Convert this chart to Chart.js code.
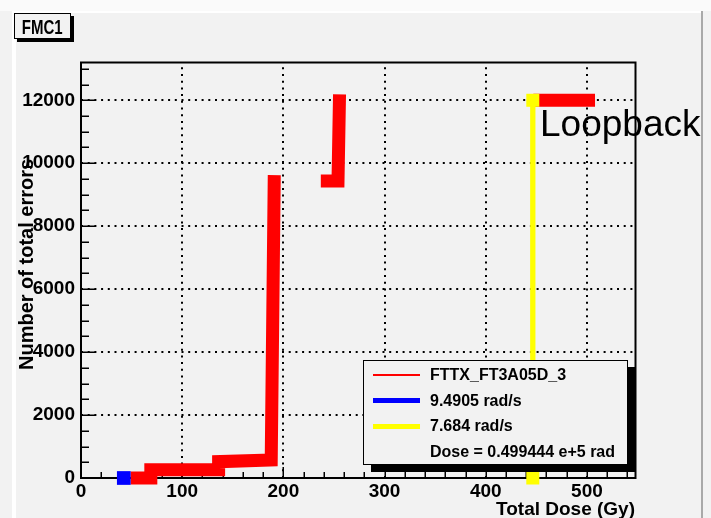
<!DOCTYPE html>
<html>
<head>
<meta charset="utf-8">
<script src="https://cdn.jsdelivr.net/npm/chart.js@4.4.1/dist/chart.umd.min.js"></script>
<style>
  html, body { margin: 0; padding: 0; }
  body {
    width: 711px; height: 518px; position: relative; overflow: hidden;
    background: #f2f2f2; font-family: "Liberation Sans", Arial, sans-serif;
  }
  #topStrip { position: absolute; left: 0; top: 0; width: 711px; height: 11px; background: #fafafa; }
  #bevelTop { position: absolute; left: 12px; top: 11px; width: 690px; height: 2px; background: #fff; }
  #bevelLeft { position: absolute; left: 12px; top: 11px; width: 4px; height: 507px; background: #fff; }
  #bevelRight { position: absolute; left: 701px; top: 11px; width: 2px; height: 507px; background: #a9a9a9; }
  #myChart { position: absolute; left: 0; top: 0; }
  .txt { position: absolute; white-space: nowrap; color: #000; }
  #title {
    position: absolute; left: 14px; top: 13px; width: 55px; height: 24px;
    border: 1px solid #000; background: #f2f2f2; box-shadow: 3px 3px 0 #000;
    text-align: center; line-height: 26px; font-size: 20px; font-weight: bold;
  }
  #title span { display: inline-block; transform: scaleX(0.75); }
  #ytitle {
    left: 16px; top: 370px; font-size: 20px; line-height: 20px; font-weight: bold;
    transform-origin: 0 0; transform: rotate(-90deg);
  }
  #xtitle { right: 76px; top: 499px; font-size: 19px; line-height: 19px; font-weight: bold; }
  #loop { left: 540px; top: 105px; font-size: 37px; line-height: 37px; }
  #legend {
    position: absolute; left: 363px; top: 360px; width: 263px; height: 103px;
    border: 1px solid #000; background: #f2f2f2; box-shadow: 8px 7px 0 #000;
  }
  .row { position: absolute; left: 0; height: 20px; width: 260px; }
  .swatch { position: absolute; left: 9px; width: 47px; }
  .lab { position: absolute; left: 66px; top: 0; line-height: 20px; font-size: 16px; font-weight: bold; white-space: nowrap; }
</style>
</head>
<body>
<div id="topStrip"></div>
<div id="bevelTop"></div>
<div id="bevelLeft"></div>
<div id="bevelRight"></div>
<canvas id="myChart" width="711" height="518"></canvas>
<div id="title"><span>FMC1</span></div>
<div class="txt" id="ytitle">Number of total errors</div>
<div class="txt" id="xtitle">Total Dose (Gy)</div>
<div class="txt" id="loop">Loopback</div>
<div id="legend"></div>
<script>
// valores
const doseRed = [49, 69, 69, 136, 136, 188, 191, null, 237, 254, 255.5, null, 447, 508];
const errosRed = [0, 0, 260, 265, 520, 570, 9620, null, 9435, 9435, 12190, null, 12000, 12000];
const doseBlue = [42.3];
const errosBlue = [0];
const doseYellow = [446.5, 446.5];
const errosYellow = [0, 12000];

const xTickValues = [0, 100, 200, 300, 400, 500];
const yTickValues = [0, 2000, 4000, 6000, 8000, 10000, 12000];

const legendLabels = ['FTTX_FT3A05D_3', '9.4905 rad/s', '7.684 rad/s', 'Dose = 0.499444 e+5 rad'];
const legendColors = ['#ff0000', '#0000ff', '#ffff00', null];

const xMax = 548, xMinor = 20;
const yMax = 13200, yMinor = 500;

const toPoints = (xs, ys) => xs.map((x, i) => ({ x: x, y: ys[i] }));

// legenda em HTML (caixa com sombra como no ROOT)
const legend = document.getElementById('legend');
const lineWidths = [1.3, 5, 5, 0];
legendLabels.forEach((txt, i) => {
  const row = document.createElement('div');
  row.className = 'row';
  row.style.top = (4 + i * 25.5) + 'px';
  if (legendColors[i]) {
    const sw = document.createElement('div');
    sw.className = 'swatch';
    sw.style.background = legendColors[i];
    sw.style.height = lineWidths[i] + 'px';
    sw.style.top = (10 - lineWidths[i] / 2) + 'px';
    row.appendChild(sw);
  }
  const lab = document.createElement('div');
  lab.className = 'lab';
  lab.textContent = txt;
  row.appendChild(lab);
  legend.appendChild(row);
});

// eixos, grade pontilhada e ticks para dentro
const moldura = {
  id: 'moldura',
  beforeDatasetsDraw(chart) {
    const { ctx, chartArea: a, scales: { x, y } } = chart;
    const line = (x1, y1, x2, y2) => { ctx.beginPath(); ctx.moveTo(x1, y1); ctx.lineTo(x2, y2); ctx.stroke(); };
    ctx.save();
    ctx.strokeStyle = '#000';

    ctx.lineWidth = 2;
    ctx.setLineDash([2, 4.7]);
    xTickValues.filter(v => v > 0).forEach(v => {
      const px = Math.round(x.getPixelForValue(v));
      line(px, a.bottom, px, a.top);
    });
    yTickValues.filter(v => v > 0).forEach(v => {
      const py = Math.round(y.getPixelForValue(v));
      line(a.left, py, a.right, py);
    });
    ctx.setLineDash([]);

    ctx.lineWidth = 1.5;
    for (let v = xMinor; v < xMax; v += xMinor) {
      const px = Math.round(x.getPixelForValue(v)) + 0.25;
      const len = xTickValues.includes(v) ? 11 : 6;
      line(px, a.bottom, px, a.bottom - len);
    }
    for (let v = yMinor; v < yMax; v += yMinor) {
      const py = Math.round(y.getPixelForValue(v)) + 0.25;
      const len = yTickValues.includes(v) ? 15 : 8;
      line(a.left, py, a.left + len, py);
    }

    ctx.lineWidth = 2;
    ctx.strokeRect(a.left, a.top, a.right - a.left, a.bottom - a.top);
    ctx.restore();
  }
};

const ctx = document.getElementById('myChart').getContext('2d');
const fonteTicks = { family: '"Liberation Sans", Arial, sans-serif', size: 19, weight: 'bold' };

new Chart(ctx, {
  type: 'scatter',
  data: {
    datasets: [
      {
        label: '7.684 rad/s',
        data: toPoints(doseYellow, errosYellow),
        showLine: true,
        borderColor: '#ffff00',
        borderWidth: 5.3,
        pointStyle: 'rect',
        pointRadius: 9.2,
        pointBackgroundColor: '#ffff00',
        pointBorderWidth: 0,
        clip: false
      },
      {
        label: '9.4905 rad/s',
        data: toPoints(doseBlue, errosBlue),
        pointStyle: 'rect',
        pointRadius: 9.7,
        pointBackgroundColor: '#0000ff',
        pointBorderWidth: 0,
        clip: false
      },
      {
        label: 'FTTX_FT3A05D_3',
        data: toPoints(doseRed, errosRed),
        showLine: true,
        spanGaps: false,
        borderColor: '#ff0000',
        borderWidth: 13,
        borderJoinStyle: 'miter',
        borderCapStyle: 'butt',
        tension: 0,
        pointRadius: 0,
        clip: false
      }
    ]
  },
  options: {
    responsive: false,
    animation: false,
    layout: { padding: { left: 0, top: 62.5, right: 75.5, bottom: 0 } },
    plugins: { legend: { display: false }, tooltip: { enabled: false } },
    scales: {
      x: {
        type: 'linear',
        min: 0,
        max: xMax,
        afterFit(scale) { scale.height = 40; },
        afterBuildTicks(scale) { scale.ticks = xTickValues.map(v => ({ value: v })); },
        grid: { display: false, drawTicks: false },
        border: { display: false },
        ticks: { color: '#000', font: fonteTicks, padding: 2, maxRotation: 0, autoSkip: false, callback: v => String(v) }
      },
      y: {
        type: 'linear',
        min: 0,
        max: yMax,
        afterFit(scale) { scale.width = 81; },
        afterBuildTicks(scale) { scale.ticks = yTickValues.map(v => ({ value: v })); },
        grid: { display: false, drawTicks: false },
        border: { display: false },
        ticks: { color: '#000', font: fonteTicks, padding: 6, autoSkip: false, callback: v => String(v) }
      }
    }
  },
  plugins: [moldura]
});
</script>
</body>
</html>
